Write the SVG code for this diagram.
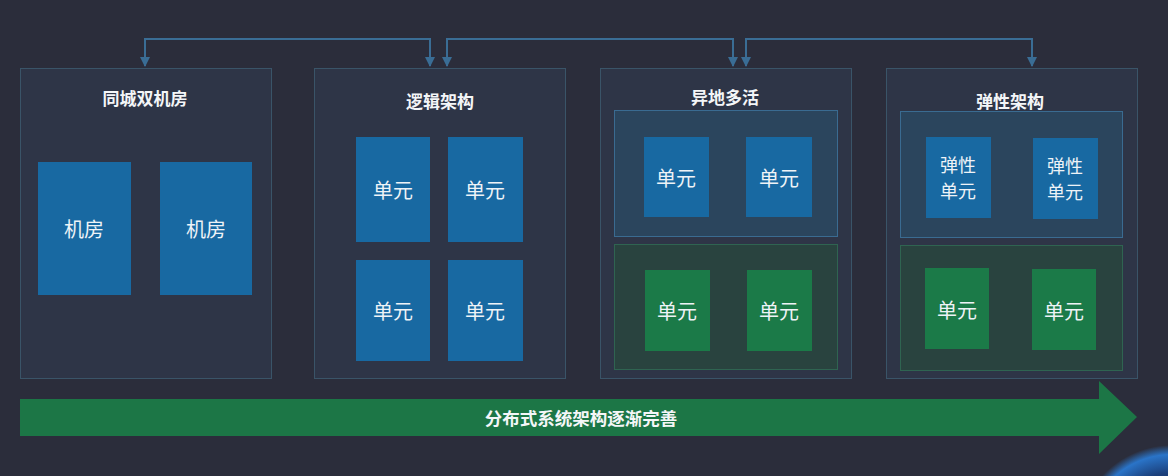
<svg xmlns="http://www.w3.org/2000/svg" width="1168" height="476" viewBox="0 0 1168 476">
<defs>
<style>
.panel{fill:#2e3547;stroke:#3a5468;stroke-width:1}
.bcont{fill:#2b455d;stroke:#3a6b91;stroke-width:1}
.gcont{fill:#29433f;stroke:#2f6451;stroke-width:1}
.bu{fill:#1869a2}
.gu{fill:#1b7a48}
.title{font-family:"Noto Sans CJK SC","Noto Sans",sans-serif;font-size:17px;font-weight:bold;fill:#f4f6f8;text-anchor:middle;dominant-baseline:central}
.lbl{font-family:"Noto Sans CJK SC","Noto Sans",sans-serif;font-size:20px;fill:#eef3f7;text-anchor:middle;dominant-baseline:central}
.lbl2{font-family:"Noto Sans CJK SC","Noto Sans",sans-serif;font-size:18px;fill:#eef3f7;text-anchor:middle;dominant-baseline:central}
.conn{fill:none;stroke:#3a6d95;stroke-width:2}
</style>
<marker id="ah" viewBox="0 0 10 10" refX="9" refY="5" markerWidth="5" markerHeight="5" orient="auto-start-reverse" markerUnits="strokeWidth">
<path d="M0,0 L10,5 L0,10 z" fill="#3a6d95"/>
</marker>
<radialGradient id="glow" cx="0.5" cy="0.5" r="0.5">
<stop offset="0.7" stop-color="#1b3f7a"/>
<stop offset="0.9" stop-color="#2a74c8"/>
<stop offset="1" stop-color="#2a74c8" stop-opacity="0"/>
</radialGradient>
</defs>
<rect width="1168" height="476" fill="#2b2d3b"/>
<circle cx="1172" cy="540" r="95" fill="url(#glow)"/>

<g id="connectors">
<path class="conn" d="M145,66 V39 H430 V66" marker-start="url(#ah)" marker-end="url(#ah)"/>
<path class="conn" d="M447,66 V39 H733 V66" marker-start="url(#ah)" marker-end="url(#ah)"/>
<path class="conn" d="M746,66 V39 H1032 V66" marker-start="url(#ah)" marker-end="url(#ah)"/>
</g>

<g id="panel-tongcheng">
<rect class="panel" x="20.5" y="68.5" width="251" height="310"/>
<text class="title" x="145" y="97">同城双机房</text>
<rect class="bu" x="38" y="162" width="93" height="133"/>
<text class="lbl" x="84" y="228">机房</text>
<rect class="bu" x="160" y="162" width="92" height="133"/>
<text class="lbl" x="206" y="228">机房</text>
</g>

<g id="panel-luoji">
<rect class="panel" x="314.5" y="68.5" width="251" height="310"/>
<text class="title" x="440" y="100">逻辑架构</text>
<rect class="bu" x="356" y="137" width="74" height="105"/>
<text class="lbl" x="393" y="189">单元</text>
<rect class="bu" x="448" y="137" width="75" height="105"/>
<text class="lbl" x="485" y="189">单元</text>
<rect class="bu" x="356" y="260" width="74" height="101"/>
<text class="lbl" x="393" y="310">单元</text>
<rect class="bu" x="448" y="260" width="75" height="101"/>
<text class="lbl" x="485" y="310">单元</text>
</g>

<g id="panel-yidi">
<rect class="panel" x="600.5" y="68.5" width="251" height="310"/>
<text class="title" x="725" y="96">异地多活</text>
<rect class="bcont" x="614.5" y="110.5" width="223" height="126"/>
<rect class="bu" x="644" y="137" width="65" height="80"/>
<text class="lbl" x="676" y="177">单元</text>
<rect class="bu" x="746" y="137" width="66" height="80"/>
<text class="lbl" x="779" y="177">单元</text>
<rect class="gcont" x="614.5" y="244.5" width="223" height="125"/>
<rect class="gu" x="645" y="270" width="65" height="81"/>
<text class="lbl" x="677" y="310">单元</text>
<rect class="gu" x="747" y="270" width="65" height="81"/>
<text class="lbl" x="779" y="310">单元</text>
</g>

<g id="panel-tanxing">
<rect class="panel" x="886.5" y="68.5" width="251" height="310"/>
<text class="title" x="1010" y="100">弹性架构</text>
<rect class="bcont" x="900.5" y="111.5" width="222" height="126"/>
<rect class="bu" x="926" y="137" width="65" height="81"/>
<text class="lbl2" x="958" y="164">弹性</text>
<text class="lbl2" x="958" y="190">单元</text>
<rect class="bu" x="1033" y="138" width="65" height="81"/>
<text class="lbl2" x="1065" y="165">弹性</text>
<text class="lbl2" x="1065" y="191">单元</text>
<rect class="gcont" x="900.5" y="245.5" width="222" height="125"/>
<rect class="gu" x="925" y="268" width="64" height="81"/>
<text class="lbl" x="957" y="309">单元</text>
<rect class="gu" x="1032" y="269" width="64" height="81"/>
<text class="lbl" x="1064" y="310">单元</text>
</g>

<g id="progress-arrow">
<path d="M20,399 H1099 V381 L1137,417 L1099,454 V436 H20 Z" fill="#1c7646"/>
<text class="title" x="581" y="417" style="font-size:17.5px">分布式系统架构逐渐完善</text>
</g>
</svg>
